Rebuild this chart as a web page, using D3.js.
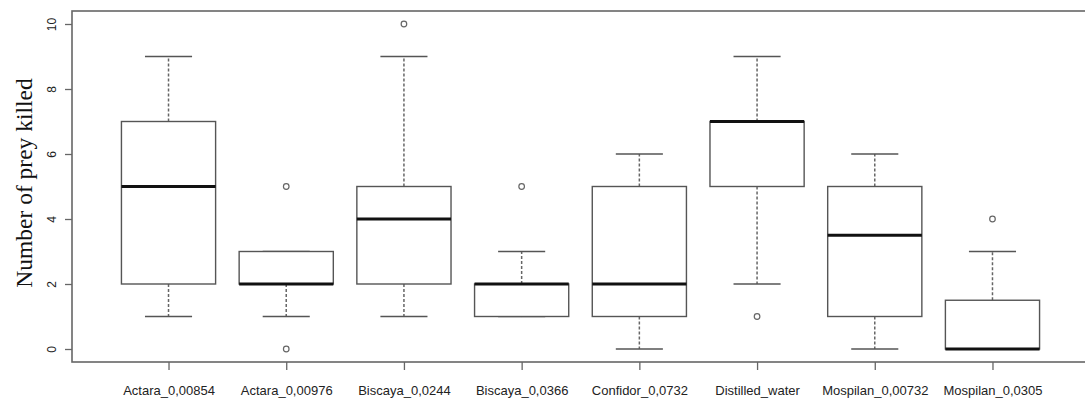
<!DOCTYPE html>
<html lang="en">
<head>
<meta charset="utf-8">
<title>Number of prey killed</title>
<script src="https://cdnjs.cloudflare.com/ajax/libs/d3/7.8.5/d3.min.js"></script>
<style>
  body { margin: 0; background: #fff; }
  svg { display: block; }
  .tick text { font-family: "Liberation Sans", Arial, sans-serif; fill: #222; }
</style>
</head>
<body>
<div id="vis"></div>
<script>
// treatments and their box statistics
var groups = ['Actara_0,00854', 'Actara_0,00976', 'Biscaya_0,0244', 'Biscaya_0,0366',
              'Confidor_0,0732', 'Distilled_water', 'Mospilan_0,00732', 'Mospilan_0,0305'];
var whiskerLow = [1, 1, 1, 1, 0, 2, 0, 0];
var q1         = [2, 2, 2, 1, 1, 5, 1, 0];
var median     = [5, 2, 4, 2, 2, 7, 3.5, 0];
var q3         = [7, 3, 5, 2, 5, 7, 5, 1.5];
var whiskerHigh = [9, 3, 9, 3, 6, 9, 6, 3];
var outliers   = [[], [5, 0], [10], [5], [], [1], [], [4]];
var yTicks = [0, 2, 4, 6, 8, 10];

var width = 1085, height = 398;
var margin = { top: 11, bottom: 36, left: 72, right: -4 };

var svg = d3.select('#vis').append('svg')
    .attr('width', width)
    .attr('height', height);

var innerW = width - margin.left - margin.right;
var innerH = height - margin.top - margin.bottom;

var x = d3.scalePoint()
    .domain(groups)
    .range([margin.left, margin.left + innerW])
    .padding(0.82);

var y = d3.scaleLinear()
    .domain([-0.4, 10.4])
    .range([margin.top + innerH, margin.top]);

var step = x.step();
var boxW = step * 0.8;
var capW = boxW * 0.5;
var boxStroke = '#555';

var data = groups.map(function(g, i) {
    return { name: g, lo: whiskerLow[i], q1: q1[i], med: median[i], q3: q3[i], hi: whiskerHigh[i], out: outliers[i] };
});

var boxes = svg.selectAll('.box').data(data).enter()
    .append('g').attr('class', 'box');

// whiskers (dashed)
boxes.append('line')
    .attr('x1', function(d) { return x(d.name); })
    .attr('x2', function(d) { return x(d.name); })
    .attr('y1', function(d) { return y(d.q3); })
    .attr('y2', function(d) { return y(d.hi); })
    .attr('stroke', '#666').attr('stroke-width', 1.5)
    .attr('stroke-dasharray', '3,2');

boxes.append('line')
    .attr('x1', function(d) { return x(d.name); })
    .attr('x2', function(d) { return x(d.name); })
    .attr('y1', function(d) { return y(d.q1); })
    .attr('y2', function(d) { return y(d.lo); })
    .attr('stroke', '#666').attr('stroke-width', 1.5)
    .attr('stroke-dasharray', '3,2');

// staples
boxes.selectAll('.cap')
    .data(function(d) { return [d.lo, d.hi].map(function(v) { return { name: d.name, v: v }; }); })
    .enter().append('line')
    .attr('class', 'cap')
    .attr('x1', function(d) { return x(d.name) - capW / 2; })
    .attr('x2', function(d) { return x(d.name) + capW / 2; })
    .attr('y1', function(d) { return y(d.v); })
    .attr('y2', function(d) { return y(d.v); })
    .attr('stroke', boxStroke).attr('stroke-width', 1.4);

// box
boxes.append('rect')
    .attr('x', function(d) { return x(d.name) - boxW / 2; })
    .attr('width', boxW)
    .attr('y', function(d) { return y(d.q3); })
    .attr('height', function(d) { return y(d.q1) - y(d.q3); })
    .attr('fill', '#fff')
    .attr('stroke', boxStroke).attr('stroke-width', 1.4);

// median
boxes.append('line')
    .attr('x1', function(d) { return x(d.name) - boxW / 2; })
    .attr('x2', function(d) { return x(d.name) + boxW / 2; })
    .attr('y1', function(d) { return y(d.med); })
    .attr('y2', function(d) { return y(d.med); })
    .attr('stroke', '#111').attr('stroke-width', 3);

// outliers
boxes.selectAll('.out')
    .data(function(d) { return d.out.map(function(v) { return { name: d.name, v: v }; }); })
    .enter().append('circle')
    .attr('class', 'out')
    .attr('cx', function(d) { return x(d.name); })
    .attr('cy', function(d) { return y(d.v); })
    .attr('r', 2.8)
    .attr('fill', 'none')
    .attr('stroke', '#666').attr('stroke-width', 1.2);

// frame
svg.append('rect')
    .attr('x', margin.left)
    .attr('y', margin.top)
    .attr('width', innerW)
    .attr('height', innerH)
    .attr('fill', 'none')
    .attr('stroke', '#666')
    .attr('stroke-width', 1.6);

// axes
var yAxis = svg.append('g')
    .attr('transform', 'translate(' + margin.left + ',0)')
    .call(d3.axisLeft(y).tickValues(yTicks).tickSize(7).tickSizeOuter(0).tickPadding(0));
yAxis.select('.domain').remove();
yAxis.selectAll('.tick line').attr('stroke', '#666').attr('stroke-width', 1.3);
yAxis.selectAll('.tick text')
    .attr('transform', 'translate(-20,0) rotate(-90)')
    .attr('x', 0).attr('dy', '0.35em')
    .attr('text-anchor', 'middle')
    .style('font-size', '12px');

var xAxis = svg.append('g')
    .attr('transform', 'translate(0,' + (margin.top + innerH) + ')')
    .call(d3.axisBottom(x).tickSize(8).tickSizeOuter(0).tickPadding(16));
xAxis.select('.domain').remove();
xAxis.selectAll('.tick line').attr('stroke', '#666').attr('stroke-width', 1.3);
xAxis.selectAll('.tick text').style('font-size', '13px');

svg.append('text')
    .attr('transform', 'translate(32,' + 183 + ') rotate(-90)')
    .attr('text-anchor', 'middle')
    .style('font-family', '"Liberation Serif", "Times New Roman", serif')
    .style('font-size', '23.5px')
    .attr('fill', '#111')
    .text('Number of prey killed');
</script>
</body>
</html>
